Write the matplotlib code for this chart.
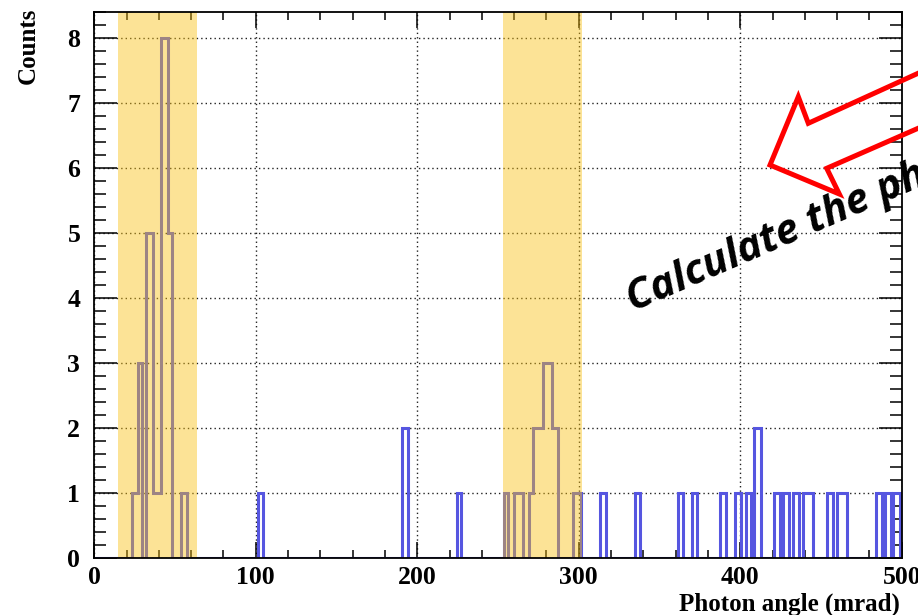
import matplotlib
matplotlib.use("Agg")
import matplotlib.pyplot as plt
from matplotlib.lines import Line2D
from matplotlib.ticker import MultipleLocator

# ---- data (photon angle histogram) ----
seg_lo = [23.2, 27.3, 31.9, 36.6, 41.2, 45.5, 53.6,
          101.2, 190.8, 224.4,
          253.5, 259.8, 269.0, 271.4, 278.1, 283.5, 296.3,
          313.4, 334.6, 361.2, 370.1, 387.7, 397.0, 403.5, 408.7,
          421.0, 426.5, 432.6, 438.8, 453.7, 459.9, 484.0, 489.6, 494.8]
seg_hi = [27.3, 29.8, 36.6, 41.2, 45.5, 48.0, 57.3,
          104.4, 194.2, 227.4,
          256.3, 265.5, 271.4, 278.1, 283.5, 287.2, 301.5,
          316.8, 337.8, 364.3, 373.3, 391.4, 400.7, 406.9, 412.8,
          424.4, 430.2, 436.4, 445.1, 457.5, 466.2, 487.6, 493.4, 499.0]
seg_count = [1, 3, 5, 1, 8, 5, 1,
             1, 2, 1,
             1, 1, 1, 2, 3, 2, 1,
             1, 1, 1, 1, 1, 1, 1, 2,
             1, 1, 1, 1, 1, 1, 1, 1, 1]
band_lo = [14.5, 253.3]
band_hi = [63.5, 301.9]
x_range = (0, 500)
y_max = 8.4
x_label = "Photon angle (mrad)"
y_label = "Counts"
note_text = "Calculate the photon angle"

# build step edges / values from the segments
edges = [x_range[0]]
vals = []
for lo, hi, c in zip(seg_lo, seg_hi, seg_count):
    if lo > edges[-1] + 1e-9:
        vals.append(0)
        edges.append(lo)
    vals.append(c)
    edges.append(hi)
if edges[-1] < x_range[1]:
    vals.append(0)
    edges.append(x_range[1])

W, H = 918, 615
fig = plt.figure(figsize=(W / 100, H / 100), dpi=100)
ax = fig.add_axes([94.2 / W, (H - 557.6) / H, (901.7 - 94.2) / W, (557.6 - 12) / H])

serif = ["Liberation Serif", "DejaVu Serif"]

ax.stairs(vals, edges, baseline=0, color="#5656e0", lw=2.2, zorder=2)
for lo, hi in zip(band_lo, band_hi):
    ax.axvspan(lo, hi, color="#fac110", alpha=0.44, lw=0, zorder=3)

ax.set_xlim(*x_range)
ax.set_ylim(0, y_max)
ax.set_axisbelow(True)
ax.grid(True, which="major", color="#222222", linestyle=(0, (1, 2.2)), lw=1.0)

ax.xaxis.set_major_locator(MultipleLocator(100))
ax.xaxis.set_minor_locator(MultipleLocator(20))
ax.yaxis.set_major_locator(MultipleLocator(1))
ax.yaxis.set_minor_locator(MultipleLocator(0.2))
ax.tick_params(which="both", direction="in", top=True, right=True, color="black", width=1.1)
ax.tick_params(axis="x", which="major", length=11.5, pad=6)
ax.tick_params(axis="x", which="minor", length=5.8)
ax.tick_params(axis="y", which="major", length=16.5, pad=10)
ax.tick_params(axis="y", which="minor", length=8.6)
for lab in ax.get_xticklabels() + ax.get_yticklabels():
    lab.set_fontfamily(serif)
    lab.set_fontweight("bold")
    lab.set_fontsize(18.5)
for sp in ax.spines.values():
    sp.set_linewidth(1.3)
    sp.set_zorder(4)

fig.text(28 / W, 1 - 8 / H, y_label, rotation=90, ha="center", va="top",
         fontfamily=serif, fontweight="bold", fontsize=18)
fig.text(900 / W, 1 - 604 / H, x_label, ha="right", va="center",
         fontfamily=serif, fontweight="bold", fontsize=18)

# hollow red block arrow (annotation, figure pixel coordinates from top-left)
arrow_px = [(940, 63.3), (808.3, 123.3), (798.3, 96.7), (770, 165),
            (839.3, 194), (826.7, 168.3), (940, 118.7)]
fig.add_artist(Line2D([p[0] / W for p in arrow_px], [1 - p[1] / H for p in arrow_px],
                      transform=fig.transFigure, color="#ff0000", lw=3.6,
                      solid_joinstyle="miter", zorder=10))

fig.text(633 / W, 1 - 312 / H, note_text, rotation=23.5, rotation_mode="anchor",
         ha="left", va="baseline", fontfamily="Open Sans", fontstyle="italic",
         fontweight="bold", fontsize=30, color="black", zorder=10)

fig.savefig("out.png", dpi=100)
